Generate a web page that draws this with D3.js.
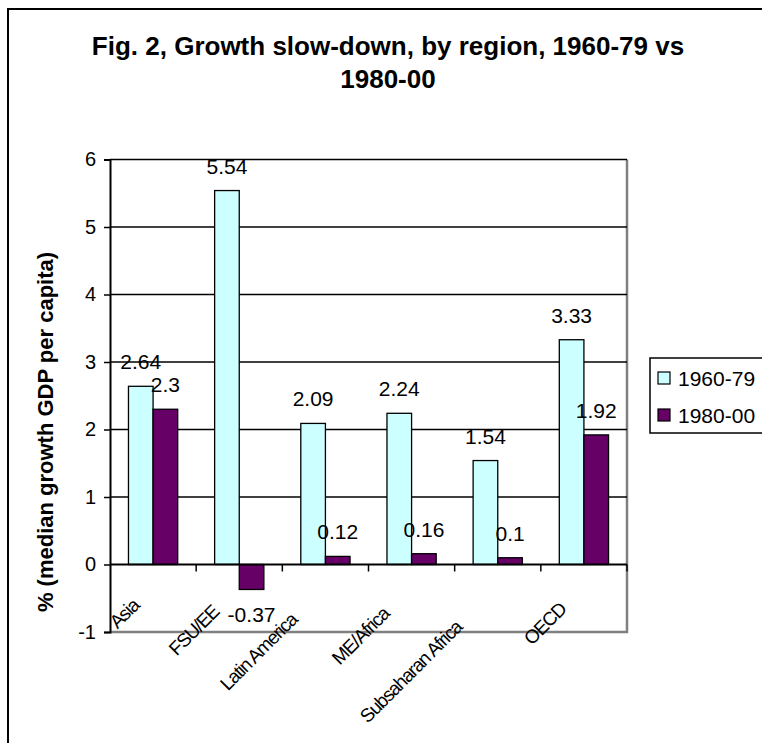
<!DOCTYPE html>
<html><head><meta charset="utf-8">
<script src="https://cdn.jsdelivr.net/npm/d3@7"></script>
<style>
html,body{margin:0;padding:0;background:#fff;}
svg{display:block;font-family:"Liberation Sans",Arial,sans-serif;}
</style></head>
<body>
<svg id="chart" width="762" height="743"></svg>
<script>
const categories = ["Asia", "FSU/EE", "Latin America", "ME/Africa", "Subsaharan Africa", "OECD"];
const seriesNames = ["1960-79", "1980-00"];
const values1960_79 = [2.64, 5.54, 2.09, 2.24, 1.54, 3.33];
const values1980_00 = [2.3, -0.37, 0.12, 0.16, 0.1, 1.92];
const yTicks = [-1, 0, 1, 2, 3, 4, 5, 6];
const colors = ["#CCFFFF", "#660066"];
const titleLines = ["Fig. 2, Growth slow-down, by region, 1960-79 vs", "1980-00"];
const yTitle = "% (median growth GDP per capita)";

const seriesValues = [values1960_79, values1980_00];
const svg = d3.select("#chart");

// outer border
svg.append("rect").attr("x", 8).attr("y", 9).attr("width", 820).attr("height", 820)
  .attr("fill", "#fff").attr("stroke", "#000").attr("stroke-width", 2);

const plot = {left: 110, right: 627, top: 159.5, bottom: 632};
const y = d3.scaleLinear().domain([-1, 6]).range([plot.bottom, plot.top]);
const x0 = d3.scaleBand().domain(categories).range([plot.left, plot.right]).padding(0);
const x1 = d3.scaleBand().domain(seriesNames).range([0, x0.bandwidth()]).paddingInner(0).paddingOuter(0.75);

// title
svg.append("text").attr("x", 388).attr("y", 55).attr("text-anchor", "middle")
  .attr("font-weight", "bold").attr("font-size", 26).text(titleLines[0]);
svg.append("text").attr("x", 388).attr("y", 88).attr("text-anchor", "middle")
  .attr("font-weight", "bold").attr("font-size", 26).text(titleLines[1]);

// plot area border (gray right & bottom)
svg.append("path")
  .attr("d", `M${plot.right},${plot.top}V${plot.bottom}H${plot.left}`)
  .attr("fill", "none").attr("stroke", "#808080").attr("stroke-width", 2.5);

// gridlines
svg.append("g").selectAll("line").data(yTicks.filter(t => t > 0)).join("line")
  .attr("x1", plot.left).attr("x2", plot.right)
  .attr("y1", d => y(d)).attr("y2", d => y(d))
  .attr("stroke", "#000").attr("stroke-width", 1.6);

// bars
const groups = svg.append("g").selectAll("g").data(categories).join("g")
  .attr("transform", d => `translate(${x0(d)},0)`);
groups.selectAll("rect").data((c, i) => seriesNames.map((s, k) => ({s, k, v: seriesValues[k][i]})))
  .join("rect")
  .attr("x", d => x1(d.s)).attr("width", x1.bandwidth())
  .attr("y", d => y(Math.max(0, d.v)))
  .attr("height", d => Math.abs(y(d.v) - y(0)))
  .attr("fill", d => colors[d.k]).attr("stroke", "#000").attr("stroke-width", 1.3);

// y axis
const yAxis = d3.axisLeft(y).tickValues(yTicks).tickSize(6).tickPadding(8).tickFormat(d => String(d));
const gy = svg.append("g").attr("transform", `translate(${plot.left},0)`).call(yAxis);
gy.select(".domain").attr("stroke", "#000").attr("stroke-width", 2);
gy.selectAll(".tick line").attr("stroke", "#000").attr("stroke-width", 1.5);
gy.selectAll(".tick text").attr("font-size", 20).attr("font-family", "Liberation Sans, Arial, sans-serif").attr("fill", "#000");

// x axis at zero
svg.append("line").attr("x1", plot.left).attr("x2", plot.right)
  .attr("y1", y(0)).attr("y2", y(0)).attr("stroke", "#000").attr("stroke-width", 2);
const boundaries = categories.map(c => x0(c) + x0.bandwidth());
svg.append("g").selectAll("line").data(boundaries).join("line")
  .attr("x1", d => d).attr("x2", d => d).attr("y1", y(0)).attr("y2", y(0) + 7)
  .attr("stroke", "#000").attr("stroke-width", 1.5);

// value labels
groups.selectAll("text.val").data((c, i) => seriesNames.map((s, k) => ({s, k, v: seriesValues[k][i]})))
  .join("text").attr("class", "val")
  .attr("x", d => x1(d.s) + x1.bandwidth() / 2)
  .attr("y", d => d.v >= 0 ? y(d.v) - 17 : y(d.v) + 33)
  .attr("text-anchor", "middle").attr("font-size", 21).text(d => String(d.v));

// category labels rotated
const catG = svg.append("g");
categories.forEach(c => {
  const cx = x0(c) + x0.bandwidth() / 2;
  const t = catG.append("text").attr("font-size", 19).attr("text-anchor", "end").attr("letter-spacing", -1.2).text(c);
  const L = t.node().getComputedTextLength();
  const s = 0.3 * L;
  const px = cx - 6 - 0.707 * s, py = 600 + 0.707 * s;
  t.attr("transform", `translate(${px},${py}) rotate(-45)`);
});

// y title
svg.append("text").attr("transform", "translate(45,432) rotate(-90)")
  .attr("text-anchor", "middle").attr("dy", "0.35em")
  .attr("font-weight", "bold").attr("font-size", 22).text(yTitle);

// legend
const lg = svg.append("g");
lg.append("rect").attr("x", 650).attr("y", 358).attr("width", 140).attr("height", 75)
  .attr("fill", "#fff").attr("stroke", "#000").attr("stroke-width", 1.5);
seriesNames.forEach((s, k) => {
  const cy = 378 + k * 37;
  lg.append("rect").attr("x", 658).attr("y", cy - 6).attr("width", 12).attr("height", 12)
    .attr("fill", colors[k]).attr("stroke", "#000").attr("stroke-width", 1.2);
  lg.append("text").attr("x", 678).attr("y", cy).attr("dy", "0.36em").attr("font-size", 21).text(s);
});
</script>
</body></html>
